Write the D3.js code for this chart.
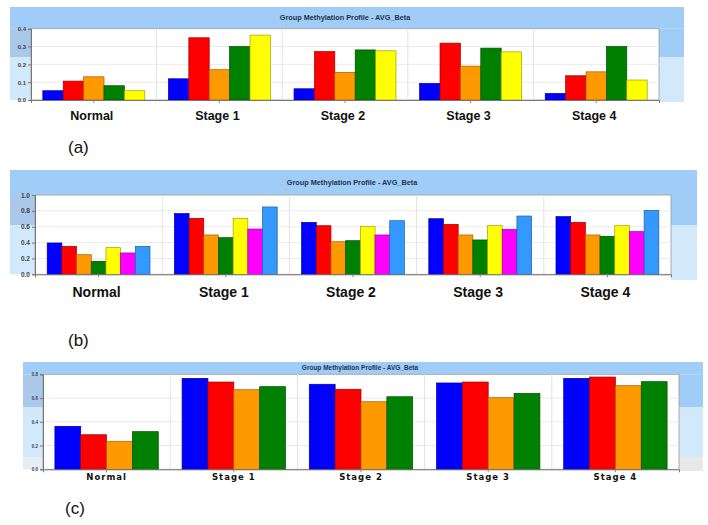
<!DOCTYPE html>
<html>
<head>
<meta charset="utf-8">
<script src="https://cdn.jsdelivr.net/npm/d3@7"></script>
<style>
  body { margin: 0; background: #fff; }
  svg { display: block; }
</style>
</head>
<body>
<script>
// categories shared by all three charts
const categories = ["Normal", "Stage 1", "Stage 2", "Stage 3", "Stage 4"];
const chartTitle = "Group Methylation Profile - AVG_Beta";

// (a) five series per stage
const colorsA = ["#0000ff", "#ff0000", "#ff9900", "#008000", "#ffff00"];
const valuesA = [
  [0.052, 0.106, 0.130, 0.080, 0.052],
  [0.119, 0.349, 0.170, 0.300, 0.364],
  [0.063, 0.272, 0.155, 0.281, 0.276],
  [0.093, 0.319, 0.190, 0.291, 0.270],
  [0.037, 0.136, 0.158, 0.300, 0.112]
];
const ticksA = [0, 0.1, 0.2, 0.3, 0.4];

// (b) seven series per stage
const colorsB = ["#0000ff", "#ff0000", "#ff9900", "#008000", "#ffff00", "#ff00ff", "#3399ff"];
const valuesB = [
  [0.395, 0.353, 0.247, 0.164, 0.336, 0.269, 0.353],
  [0.765, 0.706, 0.496, 0.462, 0.706, 0.571, 0.849],
  [0.655, 0.613, 0.411, 0.424, 0.605, 0.496, 0.676],
  [0.701, 0.630, 0.496, 0.433, 0.613, 0.567, 0.735],
  [0.727, 0.655, 0.496, 0.479, 0.613, 0.538, 0.807]
];
const ticksB = [0, 0.2, 0.4, 0.6, 0.8, 1.0];

// (c) four series per stage
const colorsC = ["#0000ff", "#ff0000", "#ff9900", "#008000"];
const valuesC = [
  [0.362, 0.291, 0.236, 0.317],
  [0.766, 0.735, 0.670, 0.696],
  [0.716, 0.674, 0.569, 0.611],
  [0.727, 0.735, 0.603, 0.640],
  [0.766, 0.777, 0.704, 0.738]
];
const ticksC = [0, 0.2, 0.4, 0.6, 0.8];

const svg = d3.select("body").append("svg")
  .attr("width", 708).attr("height", 525);

//draws one framed bar chart like the exported screenshots
function drawPanel(p) {
  const g = svg.append("g");
  // blue header band and side panels
  g.append("rect").attr("x", p.fx0).attr("y", p.hy0)
    .attr("width", p.fx1 - p.fx0).attr("height", p.top - p.hy0).attr("fill", "#a0cdf7");
  g.append("rect").attr("x", p.fx0).attr("y", p.top)
    .attr("width", p.left - p.fx0).attr("height", p.split - p.top).attr("fill", "#a9c8ea");
  g.append("rect").attr("x", p.fx0).attr("y", p.split)
    .attr("width", p.left - p.fx0).attr("height", p.bottom - p.split).attr("fill", "#d2e8fb");
  g.append("rect").attr("x", p.right).attr("y", p.top)
    .attr("width", p.fx1 - p.right).attr("height", p.split - p.top).attr("fill", "#a0cdf7");
  g.append("rect").attr("x", p.right).attr("y", p.split)
    .attr("width", p.fx1 - p.right).attr("height", p.rBottom - p.split).attr("fill", "#d2e8fb");
  if (p.grayBand) {
    g.append("rect").attr("x", p.fx0).attr("y", p.grayBand)
      .attr("width", p.left - p.fx0).attr("height", p.bottom - p.grayBand).attr("fill", "#e6eef5");
    g.append("rect").attr("x", p.right).attr("y", p.grayBand)
      .attr("width", p.fx1 - p.right).attr("height", p.rBottom - p.grayBand).attr("fill", "#e8e8e8");
  }
  g.append("text").attr("x", p.titleX).attr("y", (p.hy0 + p.top) / 2 + 0.5)
    .attr("text-anchor", "middle").attr("dominant-baseline", "middle")
    .attr("font-family", "Liberation Sans, Arial, sans-serif").attr("font-weight", "bold")
    .attr("font-size", p.titleSize).attr("fill", "#22334d").text(chartTitle);

  // plot area
  g.append("rect").attr("x", p.left).attr("y", p.top)
    .attr("width", p.right - p.left).attr("height", p.bottom - p.top)
    .attr("fill", "#fff").attr("stroke", "#9a9a9a").attr("stroke-width", 0.8);

  const x = d3.scaleBand().domain(categories).range([p.left, p.right]).padding(0);
  const y = d3.scaleLinear().domain([0, p.ymax]).range([p.bottom, p.top]);
  const inner = d3.scaleBand().domain(d3.range(p.colors.length))
    .range([0, x.bandwidth()]).paddingInner(0).paddingOuter(p.outer);

  // grid lines
  g.append("g").selectAll("line").data(p.ticks.slice(1, -1)).join("line")
    .attr("x1", p.left).attr("x2", p.right)
    .attr("y1", d => y(d)).attr("y2", d => y(d))
    .attr("stroke", "#ebebeb").attr("stroke-width", 1);
  g.append("g").selectAll("line").data(categories.slice(1)).join("line")
    .attr("x1", d => x(d)).attr("x2", d => x(d))
    .attr("y1", p.top).attr("y2", p.bottom)
    .attr("stroke", "#e2e2e2").attr("stroke-width", 1);

  // bars
  const groups = g.append("g").selectAll("g").data(p.values).join("g")
    .attr("transform", (d, i) => "translate(" + x(categories[i]) + ",0)");
  groups.selectAll("rect").data(d => d).join("rect")
    .attr("x", (d, j) => inner(j))
    .attr("y", d => y(d))
    .attr("width", inner.bandwidth())
    .attr("height", d => p.bottom - y(d))
    .attr("fill", (d, j) => p.colors[j])
    .attr("stroke", (d, j) => d3.color(p.colors[j]).darker(1.3))
    .attr("stroke-width", 0.7);

  // axes
  const yAxis = d3.axisLeft(y).tickValues(p.ticks).tickFormat(d3.format(".1f")).tickSize(3).tickPadding(2);
  const ya = g.append("g").attr("transform", "translate(" + p.left + ",0)").call(yAxis);
  ya.select(".domain").attr("stroke", "#777");
  ya.selectAll(".tick line").attr("stroke", "#777");
  ya.selectAll("text").attr("font-family", "Liberation Sans, Arial, sans-serif")
    .attr("font-weight", "bold").attr("font-size", p.tickSize).attr("fill", "#444");

  const xa = g.append("g").attr("transform", "translate(0," + p.bottom + ")")
    .call(d3.axisBottom(x).tickSize(3).tickFormat(""));
  xa.select(".domain").attr("stroke", "#777");
  xa.selectAll(".tick line").attr("stroke", "#888");

  // stage labels
  g.append("g").selectAll("text").data(categories).join("text")
    .attr("x", d => x(d) + x.bandwidth() / 2 + p.labelDx)
    .attr("y", p.labelY)
    .attr("text-anchor", "middle")
    .attr("font-family", p.labelFont).attr("font-weight", "bold")
    .attr("font-size", p.labelSize).attr("letter-spacing", p.labelSpacing)
    .attr("fill", "#111").text(d => d);

  svg.append("text").attr("x", p.tagX).attr("y", p.tagY)
    .attr("font-family", "Liberation Sans, Arial, sans-serif")
    .attr("font-size", 17).attr("fill", "#111").text(p.tag);
}

drawPanel({
  values: valuesA, colors: colorsA, ticks: ticksA, ymax: 0.4, outer: 0.58,
  fx0: 10, fx1: 684, hy0: 7, top: 28.7, split: 57, bottom: 100, rBottom: 102,
  left: 31, right: 659, titleX: 345, titleSize: 7.3, tickSize: 6,
  labelY: 120, labelSize: 12.5, labelDx: -2, labelSpacing: 0,
  labelFont: "Liberation Sans, Arial, sans-serif",
  tag: "(a)", tagX: 68, tagY: 153
});

drawPanel({
  values: valuesB, colors: colorsB, ticks: ticksB, ymax: 1.0, outer: 0.83,
  fx0: 10, fx1: 697, hy0: 170, top: 195, split: 225, bottom: 274.3, rBottom: 280,
  left: 35, right: 671, titleX: 352, titleSize: 7.3, tickSize: 6.5,
  labelY: 297, labelSize: 14, labelDx: -2, labelSpacing: 0,
  labelFont: "Liberation Sans, Arial, sans-serif",
  tag: "(b)", tagX: 68, tagY: 346
});

drawPanel({
  values: valuesC, colors: colorsC, ticks: ticksC, ymax: 0.8, outer: 0.46,
  fx0: 23, fx1: 703, hy0: 362, top: 374.3, split: 407, bottom: 469.3, rBottom: 471, grayBand: 457,
  left: 43, right: 679, titleX: 360, titleSize: 6.5, tickSize: 4.5,
  labelY: 479.5, labelSize: 8.5, labelDx: 0, labelSpacing: 1,
  labelFont: "DejaVu Sans, Verdana, sans-serif",
  tag: "(c)", tagX: 65, tagY: 514
});
</script>
</body>
</html>
